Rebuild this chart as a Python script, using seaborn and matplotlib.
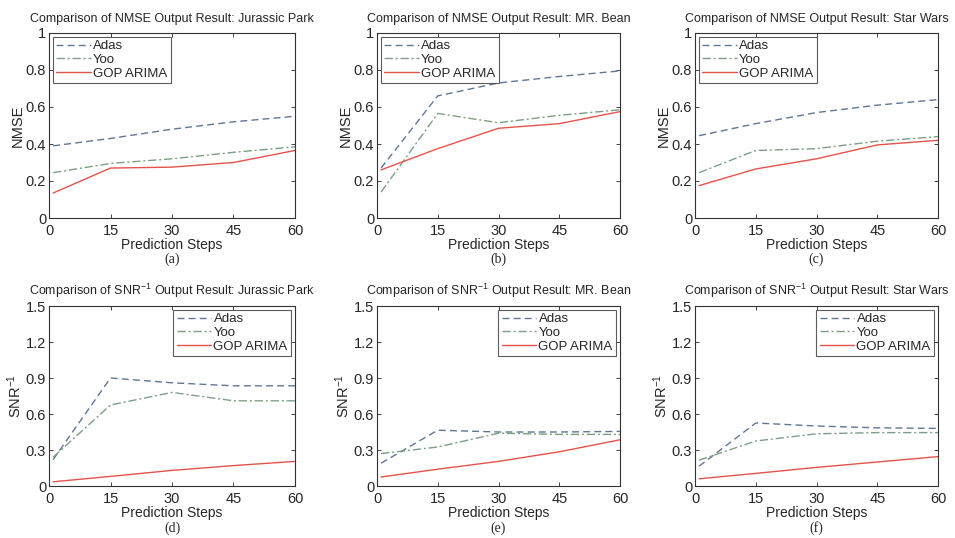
"""Recreate NMSE / SNR^-1 comparison grid."""

import matplotlib
matplotlib.use("Agg")
import matplotlib.pyplot as plt
import pandas as pd
import seaborn as sns

sns.set_theme(style="ticks")
plt.rcParams["font.family"] = ["Liberation Sans", "DejaVu Sans"]
plt.rcParams["mathtext.default"] = "regular"

steps = [1, 15, 30, 45, 60]
methods = ["Adas", "Yoo", "GOP ARIMA"]

# NMSE panels
nmse_jurassic = {
    "Adas": [0.39, 0.43, 0.48, 0.52, 0.55],
    "Yoo": [0.245, 0.295, 0.32, 0.355, 0.385],
    "GOP ARIMA": [0.135, 0.27, 0.275, 0.30, 0.365],
}
nmse_bean = {
    "Adas": [0.27, 0.66, 0.73, 0.765, 0.795],
    "Yoo": [0.14, 0.565, 0.515, 0.555, 0.585],
    "GOP ARIMA": [0.26, 0.375, 0.485, 0.51, 0.575],
}
nmse_starwars = {
    "Adas": [0.445, 0.51, 0.57, 0.61, 0.64],
    "Yoo": [0.245, 0.365, 0.375, 0.415, 0.44],
    "GOP ARIMA": [0.175, 0.265, 0.32, 0.395, 0.42],
}

# SNR^-1 panels
snr_jurassic = {
    "Adas": [0.22, 0.90, 0.86, 0.835, 0.835],
    "Yoo": [0.24, 0.675, 0.78, 0.71, 0.71],
    "GOP ARIMA": [0.035, 0.08, 0.13, 0.17, 0.205],
}
snr_bean = {
    "Adas": [0.19, 0.465, 0.45, 0.45, 0.455],
    "Yoo": [0.27, 0.325, 0.44, 0.43, 0.43],
    "GOP ARIMA": [0.075, 0.14, 0.205, 0.285, 0.385],
}
snr_starwars = {
    "Adas": [0.165, 0.525, 0.50, 0.485, 0.48],
    "Yoo": [0.215, 0.375, 0.435, 0.445, 0.445],
    "GOP ARIMA": [0.06, 0.105, 0.155, 0.20, 0.245],
}

movies = ["Jurassic Park", "MR. Bean", "Star Wars"]
panel_labels = ["(a)", "(b)", "(c)", "(d)", "(e)", "(f)"]

colors = {"Adas": "#5f7796", "Yoo": "#7d9f86", "GOP ARIMA": "#e5534b"}
dashes = {"Adas": (5, 3), "Yoo": (6, 2, 1.5, 2), "GOP ARIMA": ""}

fig = plt.figure(figsize=(9.55, 5.38), dpi=100)

lefts = [49 / 955, 377 / 955, 695 / 955]
widths = [246 / 955, 243 / 955, 243 / 955]
rows = [
    dict(bottom=1 - 218 / 538, height=185 / 538, metric="NMSE",
         ylabel="NMSE", ymax=1.0, yticks=[0, 0.2, 0.4, 0.6, 0.8, 1],
         yticklabels=["0", "0.2", "0.4", "0.6", "0.8", "1"],
         data=[nmse_jurassic, nmse_bean, nmse_starwars], loc="upper left",
         label_y=1 - 259 / 538),
    dict(bottom=1 - 486 / 538, height=180 / 538, metric="SNR$^{-1}$",
         ylabel="SNR$^{-1}$", ymax=1.5, yticks=[0, 0.3, 0.6, 0.9, 1.2, 1.5],
         yticklabels=["0", "0.3", "0.6", "0.9", "1.2", "1.5"],
         data=[snr_jurassic, snr_bean, snr_starwars], loc="upper right",
         label_y=1 - 528 / 538),
]

k = 0
for row in rows:
    for col in range(3):
        ax = fig.add_axes([lefts[col], row["bottom"], widths[col], row["height"]])
        series = row["data"][col]
        df = pd.DataFrame(
            [(s, m, v) for m in methods for s, v in zip(steps, series[m])],
            columns=["step", "method", "value"],
        )
        sns.lineplot(
            data=df, x="step", y="value", hue="method", style="method",
            palette=colors, dashes=dashes, hue_order=methods, style_order=methods,
            linewidth=1.0, ax=ax,
        )
        ax.set_xlim(0, 60)
        ax.set_ylim(0, row["ymax"])
        ax.set_xticks([0, 15, 30, 45, 60])
        ax.set_yticks(row["yticks"])
        ax.set_yticklabels(row["yticklabels"])
        ax.tick_params(direction="in", top=True, right=True, labelsize=10.5,
                       length=3, width=0.6)
        ax.tick_params(axis="x", pad=4)
        ax.tick_params(axis="y", pad=2)
        for sp in ax.spines.values():
            sp.set_linewidth(0.8)
            sp.set_color("#333333")
        ax.set_title(f"Comparison of {row['metric']} Output Result: {movies[col]}",
                     fontsize=9, pad=8)
        ax.set_xlabel("Prediction Steps", fontsize=10, labelpad=0)
        ax.set_ylabel(row["ylabel"], fontsize=10.5, labelpad=1)
        leg = ax.legend(loc=row["loc"], fontsize=9.5, frameon=True, fancybox=False,
                        borderpad=0.25, labelspacing=0.1, handlelength=2.6,
                        handletextpad=0.2, borderaxespad=0.3)
        leg.get_frame().set_edgecolor("#333333")
        leg.get_frame().set_linewidth(0.8)
        fig.text(lefts[col] + widths[col] / 2, row["label_y"], panel_labels[k],
                 ha="center", va="center", fontsize=10,
                 family=["Liberation Serif", "DejaVu Serif"])
        k += 1

fig.savefig("out.png", dpi=100)
